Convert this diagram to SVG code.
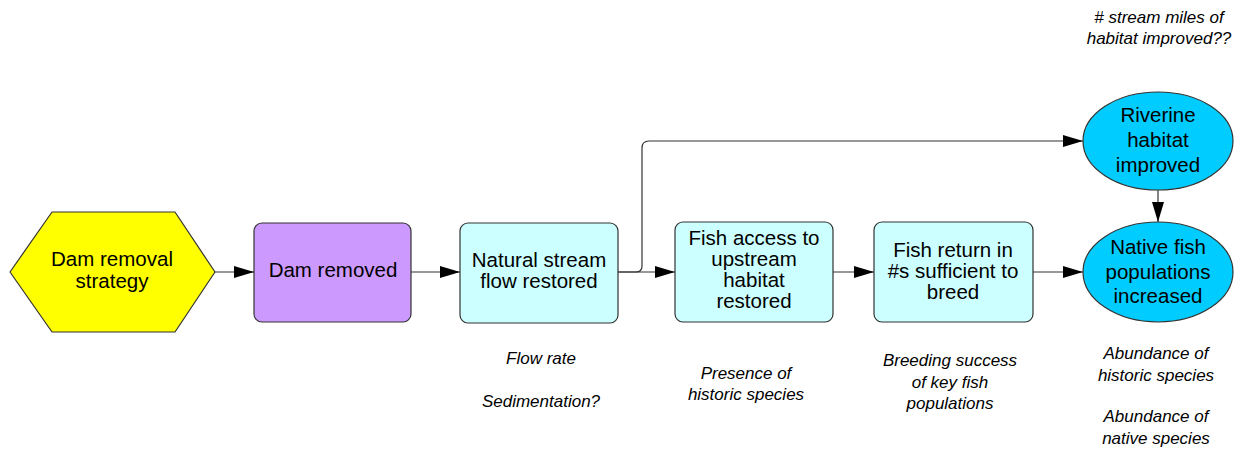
<svg xmlns="http://www.w3.org/2000/svg" width="1246" height="449" viewBox="0 0 1246 449">
<defs>
<marker id="arr" markerWidth="20" markerHeight="12" refX="20" refY="6" orient="auto" markerUnits="userSpaceOnUse">
<path d="M0,0 L20,6 L0,12 Z" fill="#000"/>
</marker>
<style>
.n{stroke:#333;stroke-width:1.2}
.t{font-family:"Liberation Sans",Arial,sans-serif;font-size:20.5px;fill:#000;text-anchor:middle}
.a{font-family:"Liberation Sans",Arial,sans-serif;font-size:17px;font-style:italic;fill:#000;text-anchor:middle}
.c{fill:none;stroke:#333;stroke-width:1.2}
</style>
</defs>
<rect width="1246" height="449" fill="#fff"/>
<g id="connectors">
<path class="c" d="M215,272 H254" marker-end="url(#arr)"/>
<path class="c" d="M411,272 H460" marker-end="url(#arr)"/>
<path class="c" d="M618,272 H675" marker-end="url(#arr)"/>
<path class="c" d="M618,272 H636 Q642,272 642,266 V148 Q642,141 649,141 H1083" marker-end="url(#arr)"/>
<path class="c" d="M833,272 H874" marker-end="url(#arr)"/>
<path class="c" d="M1033,272 H1083" marker-end="url(#arr)"/>
<path class="c" d="M1158,190 V222" marker-end="url(#arr)"/>
</g>
<g id="strategy">
<path class="n" fill="#FFFF00" d="M52,212 H175 L215,272 L175,332 H52 L10,272 Z" stroke-linejoin="round"/>
<text class="t" x="112" y="266">Dam removal</text>
<text class="t" x="112" y="288">strategy</text>
</g>
<g id="dam-removed">
<rect class="n" fill="#CC99FF" x="254" y="223" width="157" height="99" rx="8"/>
<text class="t" x="333" y="277">Dam removed</text>
</g>
<g id="natural-flow">
<rect class="n" fill="#CCFFFF" x="460" y="223" width="158" height="100" rx="8"/>
<text class="t" x="539" y="267">Natural stream</text>
<text class="t" x="539" y="288">flow restored</text>
</g>
<g id="fish-access">
<rect class="n" fill="#CCFFFF" x="675" y="222" width="158" height="100" rx="8"/>
<text class="t" x="754" y="245">Fish access to</text>
<text class="t" x="754" y="266">upstream</text>
<text class="t" x="754" y="287">habitat</text>
<text class="t" x="754" y="308">restored</text>
</g>
<g id="fish-return">
<rect class="n" fill="#CCFFFF" x="874" y="222" width="159" height="100" rx="8"/>
<text class="t" x="953" y="257">Fish return in</text>
<text class="t" x="953" y="278">#s sufficient to</text>
<text class="t" x="953" y="299">breed</text>
</g>
<g id="riverine">
<ellipse class="n" fill="#00CCFF" cx="1158" cy="141" rx="75" ry="49"/>
<text class="t" x="1158" y="122">Riverine</text>
<text class="t" x="1158" y="147">habitat</text>
<text class="t" x="1158" y="172">improved</text>
</g>
<g id="native-fish">
<ellipse class="n" fill="#00CCFF" cx="1158" cy="272" rx="75" ry="50"/>
<text class="t" x="1158" y="254">Native fish</text>
<text class="t" x="1158" y="279">populations</text>
<text class="t" x="1158" y="303">increased</text>
</g>
<g id="annotations">
<text class="a" x="541" y="364">Flow rate</text>
<text class="a" x="541" y="407">Sedimentation?</text>
<text class="a" x="746" y="379">Presence of</text>
<text class="a" x="746" y="400">historic species</text>
<text class="a" x="950" y="366">Breeding success</text>
<text class="a" x="950" y="388">of key fish</text>
<text class="a" x="950" y="409">populations</text>
<text class="a" x="1159" y="23"># stream miles of</text>
<text class="a" x="1159" y="44">habitat improved??</text>
<text class="a" x="1156" y="359">Abundance of</text>
<text class="a" x="1156" y="381">historic species</text>
<text class="a" x="1156" y="422">Abundance of</text>
<text class="a" x="1156" y="444">native species</text>
</g>
</svg>
